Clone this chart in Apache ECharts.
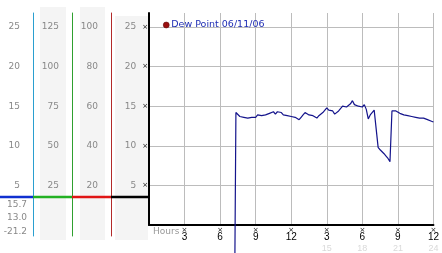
<!DOCTYPE html>
<html><head><meta charset="utf-8">
<script src="https://cdn.jsdelivr.net/npm/echarts@6/dist/echarts.min.js"></script>
<style>html,body{margin:0;padding:0;background:#fff}#c{width:442px;height:253px}</style>
</head><body><div id="c"></div>
<script>
// sampling: every 10 minutes, starting at 07:10
const startHour = 7 + 1/6;
const stepHour = 1/6;
const dewPoint = [
 -21.2, 14.2, 14.0, 13.7, 13.8, 13.6, 13.7, 13.5, 13.7, 13.6,
 13.8, 13.6, 13.9, 13.7, 13.8, 13.6, 13.9, 13.8, 14.1, 13.9,
 14.3, 14.0, 14.3, 14.1, 14.2, 13.9, 14.0, 13.8, 13.9, 13.7,
 13.8, 13.6, 13.7, 13.3, 13.6, 13.9, 14.2, 14.0, 13.9, 14.0,
 13.8, 13.7, 13.5, 13.8, 13.9, 14.2, 14.4, 14.8, 14.5, 14.7,
 14.4, 14.0, 13.9, 14.4, 14.6, 15.0, 14.8, 14.9, 15.1, 15.3,
 15.7, 15.2, 15.4, 15.0, 15.1, 14.9, 15.2, 14.6, 13.4, 13.9,
 13.7, 14.5, 14.4, 9.8, 9.5, 9.3, 9.0, 8.7, 8.4, 8.0,
 14.4, 14.3, 14.4, 14.2, 14.1, 14.0, 13.9, 13.7, 13.8, 13.6,
 13.7, 13.5, 13.6, 13.4, 13.5, 13.4, 13.5, 13.3, 13.3, 13.2,
 13.1, 13.0
];
const hours = dewPoint.map((_, i) => startHour + i * stepHour);
const seriesName = 'Dew Point 06/11/06';
const xTicks = [3, 6, 9, 12, 15, 18, 21, 24];
const col1Ticks = [5, 10, 15, 20, 25];
const col2Ticks = [25, 50, 75, 100, 125];
const col3Ticks = [20, 40, 60, 80, 100];
const mainTicks = [5, 10, 15, 20, 25];

const maxV = Math.max(...dewPoint).toFixed(1);
const lastV = dewPoint[dewPoint.length - 1].toFixed(1);
const minV = Math.min(...dewPoint).toFixed(1);

const F = 'DejaVu Sans, Verdana, sans-serif';
const gridTop = 13, mainBottomY = 225, leftBottomY = 236;
const unit = (mainBottomY - 27) / 25;
const yMax = (mainBottomY - gridTop) / unit;
const leftMin = -(leftBottomY - mainBottomY) / unit;

const chart = echarts.init(document.getElementById('c'), null, {renderer: 'canvas'});
const lblStyle = {color: '#888', fontSize: 9, fontFamily: F};
function sideAxis(offset, factor, ticks, color) {
  return {
    type: 'value', gridIndex: 1, position: 'left', offset: offset,
    min: leftMin * factor, max: yMax * factor,
    axisLine: {show: true, lineStyle: {color: color, width: 1}},
    axisTick: {show: false},
    splitLine: {show: false},
    axisLabel: Object.assign({margin: 13, customValues: ticks}, lblStyle)
  };
}
chart.setOption({
  animation: false,
  backgroundColor: '#fff',
  legend: {
    left: 158, top: 15, itemWidth: 6, itemHeight: 6, icon: 'circle',
    data: [{name: seriesName, itemStyle: {color: '#9a1010', borderColor: '#500', borderWidth: 0.5}}],
    textStyle: {color: '#1e2db4', fontSize: 9.5, fontFamily: F, padding: [0, 0, 0, -3]}
  },
  grid: [
    {left: 149, right: 4, top: gridTop, bottom: 253 - mainBottomY},
    {left: 111, width: 38, top: gridTop, bottom: 253 - leftBottomY}
  ],
  xAxis: [
    {
      type: 'value', gridIndex: 0, min: 0, max: 24, interval: 3,
      axisLine: {show: true, lineStyle: {color: '#000', width: 2}},
      axisTick: {show: false},
      splitLine: {show: true, lineStyle: {color: '#bcbcbc', width: 1}},
      axisLabel: {
        margin: 2, customValues: xTicks,
        formatter: function (v) {
          if (v <= 0) return '';
          if (v <= 12) return '{x|×}\n{n|' + v + '}';
          return '{x|×}\n{n|' + (v - 12) + '}\n{g|' + v + '}';
        },
        rich: {
          x: {fontSize: 7, lineHeight: 6, color: '#111', fontFamily: F},
          n: {fontSize: 10, lineHeight: 9, color: '#000', fontFamily: 'Liberation Sans, Arial, sans-serif'},
          g: {fontSize: 9, lineHeight: 13, color: '#d9d9d9', fontFamily: 'Liberation Sans, Arial, sans-serif'}
        }
      }
    },
    {type: 'value', gridIndex: 1, min: 0, max: 1, show: false}
  ],
  yAxis: [
    {
      type: 'value', gridIndex: 0, min: 0, max: yMax, interval: 5,
      axisLine: {show: true, lineStyle: {color: '#000', width: 2}},
      axisTick: {show: false},
      splitLine: {show: true, showMaxLine: false, showMinLine: false, lineStyle: {color: '#bcbcbc', width: 1}},
      axisLabel: {
        margin: 1, customValues: mainTicks,
        formatter: function (v) { return '{n|' + v + '}{x|×}'; },
        rich: {
          n: {color: '#888', fontSize: 9, fontFamily: F, padding: [0, 6, 0, 0]},
          x: {color: '#111', fontSize: 7, fontFamily: F}
        }
      }
    },
    sideAxis(0, 4, col3Ticks, '#b22a2a'),
    sideAxis(39, 5, col2Ticks, '#2fa02f'),
    sideAxis(78, 1, col1Ticks, '#2a9fd0')
  ],
  series: [{
    name: seriesName, type: 'line', xAxisIndex: 0, yAxisIndex: 0,
    data: hours.map((h, i) => [h, dewPoint[i]]),
    showSymbol: false, clip: false,
    itemStyle: {color: '#9a1010'},
    lineStyle: {color: '#14148c', width: 1.2}
  }],
  graphic: [
    {type: 'rect', z: -10, silent: true, shape: {x: 40, y: 7, width: 26, height: 233}, style: {fill: '#f4f4f4'}},
    {type: 'rect', z: -10, silent: true, shape: {x: 80, y: 7, width: 25, height: 233}, style: {fill: '#f4f4f4'}},
    {type: 'rect', z: -10, silent: true, shape: {x: 115, y: 16, width: 33, height: 224}, style: {fill: '#f4f4f4'}},
    {type: 'line', z: 5, shape: {x1: 0, y1: 197, x2: 33, y2: 197}, style: {stroke: '#1030d0', lineWidth: 2.5}},
    {type: 'line', z: 5, shape: {x1: 33, y1: 197, x2: 72, y2: 197}, style: {stroke: '#22b022', lineWidth: 2.5}},
    {type: 'line', z: 5, shape: {x1: 72, y1: 197, x2: 111, y2: 197}, style: {stroke: '#e01515', lineWidth: 2.5}},
    {type: 'line', z: 5, shape: {x1: 111, y1: 197, x2: 149, y2: 197}, style: {stroke: '#000', lineWidth: 2.5}},
    {type: 'text', z: 5, x: 27, y: 205, style: {text: maxV, fill: '#888', font: '9px ' + F, align: 'right', verticalAlign: 'middle'}},
    {type: 'text', z: 5, x: 27, y: 218, style: {text: lastV, fill: '#888', font: '9px ' + F, align: 'right', verticalAlign: 'middle'}},
    {type: 'text', z: 5, x: 27, y: 232, style: {text: minV, fill: '#888', font: '9px ' + F, align: 'right', verticalAlign: 'middle'}},
    {type: 'text', z: 5, x: 153, y: 232, style: {text: 'Hours', fill: '#999', font: '9px ' + F, align: 'left', verticalAlign: 'middle'}}
  ]
});
</script></body></html>
